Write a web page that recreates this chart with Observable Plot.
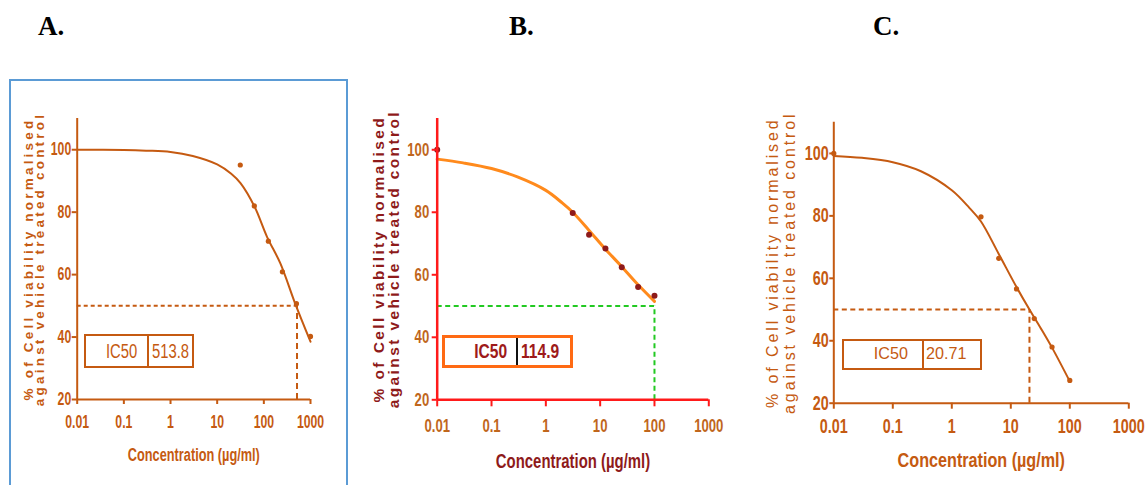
<!DOCTYPE html>
<html><head><meta charset="utf-8">
<script src="https://cdn.jsdelivr.net/npm/d3@7"></script>
<script src="https://cdn.jsdelivr.net/npm/@observablehq/plot@0.6"></script>
<style>
body{margin:0;background:#fff}
#wrap{position:relative;width:1146px;height:485px;overflow:hidden;background:#fff}
.pl{position:absolute}
.ttl{position:absolute;font-family:"Liberation Serif","Times New Roman",serif;font-weight:bold;font-size:27px;line-height:27px;color:#000}
.frameA{position:absolute;left:9px;top:79px;width:339px;height:420px;border:2px solid #5B9BD5;box-sizing:border-box}
.box{position:absolute;display:flex;box-sizing:border-box;background:#fff;font-family:"Liberation Sans",Arial,sans-serif;white-space:nowrap}
.box > div{display:flex;align-items:center;box-sizing:border-box;height:100%}
.box .l{justify-content:flex-end}
.box span{display:inline-block}
.box .l span{transform-origin:right center}
.box .r span{transform-origin:left center}
</style></head>
<body><div id="wrap"></div>
<script>
// ---- data ----
const panelLetters = ["A.", "B.", "C."];
const xTicks = [0.01, 0.1, 1, 10, 100, 1000];
const xTickLabels = ["0.01", "0.1", "1", "10", "100", "1000"];
const yTicks = [20, 40, 60, 80, 100];
const yTickLabels = ["20", "40", "60", "80", "100"];
const xDomain = [0.01, 1000];
const yDomain = [20, 110];
const xTitle = "Concentration (µg/ml)";
const yTitleLines = ["% of Cell viability normalised", "against vehicle treated control"];
const ic50Label = "IC50";
const ic50Values = ["513.8", "114.9", "20.71"];
const ic50LineX = [513.8, 100, 20.71];
const halfViability = 50;

// measured points
const concA = [31.25, 62.5, 125, 250, 500, 1000];
const viabA = [95.1, 82, 70.7, 60.9, 50.7, 40.2];
const concB = [0.01, 3.125, 6.25, 12.5, 25, 50, 100];
const viabB = [100, 79.8, 72.8, 68.4, 62.4, 56.1, 53.3];
const concC = [0.01, 3.125, 6.25, 12.5, 25, 50, 100];
const viabC = [100, 79.7, 66.4, 56.6, 47.1, 38, 27.3];

// fitted curves
const curveXA = [0.01, 0.1, 0.3, 1, 3, 10, 20, 31.6, 63, 117, 226, 470, 1000];
const curveYA = [100, 99.9, 99.7, 99.3, 98, 95.3, 92.3, 89.3, 81.8, 72.1, 63.6, 50.7, 38.5];
const curveXB = [0.01, 0.03, 0.1, 0.3, 1, 2, 3.125, 6.25, 12.5, 25, 50, 100];
const curveYB = [97, 95.8, 94, 91.3, 87, 83, 80, 74.2, 68.2, 62.6, 56.8, 51.5];
const curveXC = [0.01, 0.03, 0.1, 0.3, 1, 2, 3.125, 6.25, 12.5, 20.71, 31.8, 50, 100];
const curveYC = [99.2, 98.6, 97.2, 94.3, 88.2, 82.5, 78.2, 67.8, 57.2, 50, 44.2, 37.8, 27];

// ---- layout / styles ----
const SANS = "'Liberation Sans',Arial,sans-serif";
const panels = [
  {left:0, top:60, w:350, h:410, ml:76.7, mr:40, mt:58, mb:71,
   conc:concA, viab:viabA, cx:curveXA, cy:curveYA, ic:0,
   axis:"#C55A11", axisW:2, tickColor:"#C55A11", label:"#C55A11",
   tickFs:18, tickSx:0.68, xTickSize:5, xPad:11, yTickSize:5, yPad:1,
   curve:"#C55A11", curveW:2, dot:"#C55A11", r:2.6,
   dash:"#C55A11", dashH:"4,3", dashV:"6,4",
   xtFs:18.5, xtSx:0.69, xtDy:56, xtFill:"#C55A11",
   ytFs:13.5, ytW:"bold", ytFill:"#C55A11", ytDx:-42.2, ytLh:0.82, ytLs:3.2},
  {left:360, top:100, w:390, h:380, ml:76.7, mr:41.7, mt:18, mb:80.7,
   conc:concB, viab:viabB, cx:curveXB, cy:curveYB, ic:1,
   axis:"#FF1A1A", axisW:2.5, tickColor:"#FF1A1A", label:"#C0661C",
   tickFs:18.5, tickSx:0.71, xTickSize:7, xPad:12, yTickSize:5, yPad:3,
   curve:"#FF8A1C", curveW:3, dot:"#8E1A1A", r:3,
   dash:"#22C922", dashH:"5,3.5", dashV:"5,3.5",
   xtFs:21, xtSx:0.71, xtDy:61, xtFill:"#8E1A1A",
   ytFs:15.5, ytW:"bold", ytFill:"#8E1A1A", ytDx:-50.7, ytLh:0.97, ytLs:2.4},
  {left:760, top:100, w:386, h:380, ml:73.3, mr:17.7, mt:21.7, mb:77.3,
   conc:concC, viab:viabC, cx:curveXC, cy:curveYC, ic:2,
   axis:"#C55A11", axisW:2, tickColor:"#C55A11", label:"#C55A11",
   tickFs:20.5, tickSx:0.7, xTickSize:6, xPad:9.7, yTickSize:4, yPad:1,
   curve:"#C55A11", curveW:2, dot:"#C55A11", r:2.6,
   dash:"#C55A11", dashH:"5,3.5", dashV:"6,4",
   xtFs:21, xtSx:0.77, xtDy:57, xtFill:"#C55A11",
   ytFs:16, ytW:"normal", ytFill:"#C55A11", ytDx:-52.3, ytLh:1.06, ytLs:2.9}
];
const titlePos = [[38, 12.5], [509, 12.5], [873, 12.5]];
const boxes = [
  {left:84, top:334, w:110, h:34, border:"2px solid #C55A11", lw:62.7, div:"2px solid #C55A11", lpad:9, rpad:3, color:"#C55A11", fs:20, fw:"normal", sx:0.74},
  {left:442, top:335, w:131, h:33, border:"3px solid #FF6A13", lw:73.3, div:"2px solid #111", lpad:9, rpad:3, color:"#9E1A1A", fs:19.5, fw:"bold", sx:0.8},
  {left:842, top:338.5, w:140, h:31, border:"2px solid #C55A11", lw:80.3, div:"2px solid #C55A11", lpad:14, rpad:2, color:"#C55A11", fs:17, fw:"normal", sx:0.95}
];

// horizontally condense a rendered text around its anchor point
function squeeze(svg, t, sx) {
  const r = t.getBoundingClientRect();
  const anchor = getComputedStyle(t).textAnchor;
  const ax = anchor === "end" ? r.right : anchor === "middle" ? (r.left + r.right) / 2 : r.left;
  const ay = (r.top + r.bottom) / 2;
  const parent = t.parentNode;
  const m = parent.getScreenCTM().inverse();
  const pt = svg.createSVGPoint();
  pt.x = ax; pt.y = ay;
  const q = pt.matrixTransform(m);
  const g = document.createElementNS("http://www.w3.org/2000/svg", "g");
  g.setAttribute("transform", `translate(${q.x},${q.y}) scale(${sx},1) translate(${-q.x},${-q.y})`);
  parent.insertBefore(g, t);
  g.appendChild(t);
}

const wrap = document.getElementById("wrap");
const frame = document.createElement("div");
frame.className = "frameA";
wrap.appendChild(frame);

panels.forEach(p => {
  const pts = p.conc.map((c, i) => ({x: c, y: p.viab[i]}));
  const crv = p.cx.map((c, i) => ({x: c, y: p.cy[i]}));
  const icx = ic50LineX[p.ic];
  const svg = Plot.plot({
    width: p.w, height: p.h,
    marginLeft: p.ml, marginRight: p.mr, marginTop: p.mt, marginBottom: p.mb,
    x: {type: "log", domain: xDomain, axis: null},
    y: {domain: yDomain, axis: null},
    style: {background: "transparent", overflow: "visible"},
    marks: [
      Plot.ruleY([halfViability], {x1: xDomain[0], x2: icx, stroke: p.dash, strokeWidth: 2, strokeDasharray: p.dashH}),
      Plot.ruleX([icx], {y1: yDomain[0], y2: halfViability, stroke: p.dash, strokeWidth: 2, strokeDasharray: p.dashV}),
      Plot.line(crv, {x: "x", y: "y", curve: "catmull-rom", stroke: p.curve, strokeWidth: p.curveW}),
      Plot.dot(pts, {x: "x", y: "y", r: p.r, fill: p.dot}),
      Plot.ruleY([yDomain[0]], {stroke: p.axis, strokeWidth: p.axisW}),
      Plot.ruleX([xDomain[0]], {stroke: p.axis, strokeWidth: p.axisW}),
      Plot.axisX({ticks: xTicks, tickFormat: d => xTickLabels[xTicks.indexOf(d)], tickSize: p.xTickSize, tickPadding: p.xPad,
        stroke: p.tickColor, strokeWidth: 2, fill: p.label, fontSize: p.tickFs, fontWeight: "bold", fontFamily: SANS, label: null}),
      Plot.axisY({ticks: yTicks, tickFormat: d => yTickLabels[yTicks.indexOf(d)], tickSize: p.yTickSize, tickPadding: p.yPad,
        stroke: p.tickColor, strokeWidth: 2, fill: p.label, fontSize: p.tickFs, fontWeight: "bold", fontFamily: SANS, label: null}),
      Plot.text([xTitle], {frameAnchor: "bottom", lineAnchor: "middle", textAnchor: "middle", dy: p.xtDy,
        fontSize: p.xtFs, fontWeight: "bold", fontFamily: SANS, fill: p.xtFill}),
      Plot.text([yTitleLines.join("\n")], {frameAnchor: "left", textAnchor: "middle", lineAnchor: "middle", rotate: -90, dx: p.ytDx, lineHeight: p.ytLh,
        fontSize: p.ytFs, fontWeight: p.ytW, fontFamily: SANS, fill: p.ytFill})
    ]
  });
  svg.classList.add("pl");
  svg.style.left = p.left + "px";
  svg.style.top = p.top + "px";
  wrap.appendChild(svg);
  Array.from(svg.querySelectorAll("text")).forEach(t => {
    const s = t.textContent;
    if (s.includes("normalised")) {
      t.style.letterSpacing = p.ytLs + "px";
    } else if (s === xTitle) {
      squeeze(svg, t, p.xtSx);
    } else if (xTickLabels.includes(s) || yTickLabels.includes(s)) {
      squeeze(svg, t, p.tickSx);
    }
  });
});

panelLetters.forEach((L, i) => {
  const d = document.createElement("div");
  d.className = "ttl";
  d.style.left = titlePos[i][0] + "px";
  d.style.top = titlePos[i][1] + "px";
  d.textContent = L;
  wrap.appendChild(d);
});

boxes.forEach((b, i) => {
  const d = document.createElement("div");
  d.className = "box";
  Object.assign(d.style, {left: b.left + "px", top: b.top + "px", width: b.w + "px", height: b.h + "px",
    border: b.border, color: b.color, fontSize: b.fs + "px", fontWeight: b.fw});
  const l = document.createElement("div");
  l.className = "l";
  Object.assign(l.style, {width: b.lw + "px", flex: "none", borderRight: b.div, paddingRight: b.lpad + "px"});
  const ls = document.createElement("span");
  ls.style.transform = `scaleX(${b.sx})`;
  ls.textContent = ic50Label;
  l.appendChild(ls);
  const r = document.createElement("div");
  r.className = "r";
  r.style.paddingLeft = b.rpad + "px";
  const rs = document.createElement("span");
  rs.style.transform = `scaleX(${b.sx})`;
  rs.textContent = ic50Values[i];
  r.appendChild(rs);
  d.appendChild(l); d.appendChild(r);
  wrap.appendChild(d);
});
</script></body></html>
